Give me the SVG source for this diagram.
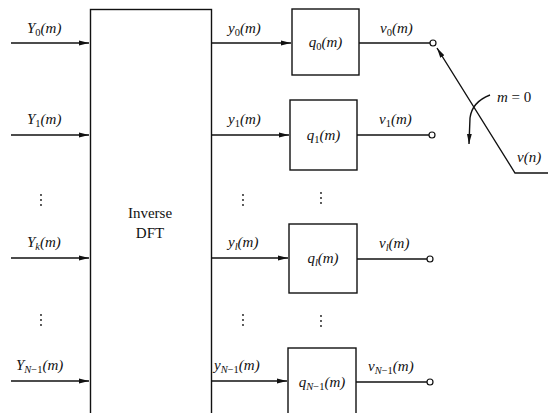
<svg xmlns="http://www.w3.org/2000/svg" width="548" height="413" viewBox="0 0 548 413">
<style>
.ln{stroke:#111;stroke-width:1.4;fill:none}
.bx{stroke:#111;stroke-width:1.4;fill:#fff}
.t{font-family:"Liberation Serif",serif;font-size:15px;fill:#111}
.i{font-style:italic}
.s{font-size:10.5px}
.c{fill:#fff;stroke:#111;stroke-width:1.2}
.d{fill:#111}
</style>
<defs>
<marker id="ah" viewBox="0 0 10 6" refX="10" refY="3" markerWidth="10" markerHeight="6" markerUnits="userSpaceOnUse" orient="auto">
<path d="M0,0.6 L10,3 L0,5.4 z" fill="#111"/>
</marker>
</defs>
<g id="idft">
<rect class="bx" x="90.5" y="9.5" width="121" height="420"/>
<text class="t" x="150" y="218" text-anchor="middle">Inverse</text>
<text class="t" x="150" y="238" text-anchor="middle">DFT</text>
</g>
<g id="q0"><rect class="bx" x="292" y="9" width="67" height="66"/>
<text class="t i" x="325.5" y="47" text-anchor="middle">q<tspan class="s" font-style="normal" dy="3">0</tspan><tspan dy="-3">(m)</tspan></text></g>
<g id="q1"><rect class="bx" x="290" y="100" width="67" height="70"/>
<text class="t i" x="323.5" y="140" text-anchor="middle">q<tspan class="s" font-style="normal" dy="3">1</tspan><tspan dy="-3">(m)</tspan></text></g>
<g id="ql"><rect class="bx" x="289" y="224" width="68" height="69"/>
<text class="t i" x="323" y="263" text-anchor="middle">q<tspan class="s" dy="3">l</tspan><tspan dy="-3">(m)</tspan></text></g>
<g id="qN1"><rect class="bx" x="288" y="348" width="68" height="80"/>
<text class="t i" x="322" y="387" text-anchor="middle">q<tspan class="s" dy="3">N</tspan><tspan class="s" font-style="normal">−1</tspan><tspan dy="-3">(m)</tspan></text></g>
<g id="connectors">
<line class="ln" x1="11" y1="43" x2="89" y2="43" marker-end="url(#ah)"/>
<line class="ln" x1="11" y1="135" x2="89" y2="135" marker-end="url(#ah)"/>
<line class="ln" x1="11" y1="258" x2="89" y2="258" marker-end="url(#ah)"/>
<line class="ln" x1="11" y1="381" x2="89" y2="381" marker-end="url(#ah)"/>
<line class="ln" x1="211" y1="43" x2="291" y2="43" marker-end="url(#ah)"/>
<line class="ln" x1="211" y1="135" x2="289" y2="135" marker-end="url(#ah)"/>
<line class="ln" x1="211" y1="258" x2="288" y2="258" marker-end="url(#ah)"/>
<line class="ln" x1="211" y1="381" x2="287" y2="381" marker-end="url(#ah)"/>
<line class="ln" x1="359" y1="43" x2="430" y2="43"/>
<line class="ln" x1="357" y1="135" x2="429" y2="135"/>
<line class="ln" x1="357" y1="259" x2="427" y2="259"/>
<line class="ln" x1="356" y1="382" x2="427" y2="382"/>
<circle class="c" cx="433" cy="43" r="3"/>
<circle class="c" cx="432" cy="135" r="3"/>
<circle class="c" cx="430" cy="259" r="3"/>
<circle class="c" cx="430" cy="382" r="3"/>
<polyline class="ln" points="548,173 515,173 437,48" marker-end="url(#ah)"/>
<path class="ln" d="M490,95 Q472,102 470,118 L469,144" marker-end="url(#ah)"/>
</g>
<g id="labels">
<text class="t i" x="27" y="33">Y<tspan class="s" font-style="normal" dy="3">0</tspan><tspan dy="-3">(m)</tspan></text>
<text class="t i" x="27" y="124">Y<tspan class="s" font-style="normal" dy="3">1</tspan><tspan dy="-3">(m)</tspan></text>
<text class="t i" x="27" y="247">Y<tspan class="s" dy="3">k</tspan><tspan dy="-3">(m)</tspan></text>
<text class="t i" x="16" y="370">Y<tspan class="s" dy="3">N</tspan><tspan class="s" font-style="normal">−1</tspan><tspan dy="-3">(m)</tspan></text>
<text class="t i" x="228" y="33">y<tspan class="s" font-style="normal" dy="3">0</tspan><tspan dy="-3">(m)</tspan></text>
<text class="t i" x="228" y="124">y<tspan class="s" font-style="normal" dy="3">1</tspan><tspan dy="-3">(m)</tspan></text>
<text class="t i" x="228" y="247">y<tspan class="s" dy="3">l</tspan><tspan dy="-3">(m)</tspan></text>
<text class="t i" x="214" y="370">y<tspan class="s" dy="3">N</tspan><tspan class="s" font-style="normal">−1</tspan><tspan dy="-3">(m)</tspan></text>
<text class="t i" x="380" y="33">v<tspan class="s" font-style="normal" dy="3">0</tspan><tspan dy="-3">(m)</tspan></text>
<text class="t i" x="379" y="124">v<tspan class="s" font-style="normal" dy="3">1</tspan><tspan dy="-3">(m)</tspan></text>
<text class="t i" x="379" y="248">v<tspan class="s" dy="3">l</tspan><tspan dy="-3">(m)</tspan></text>
<text class="t i" x="368" y="371">v<tspan class="s" dy="3">N</tspan><tspan class="s" font-style="normal">−1</tspan><tspan dy="-3">(m)</tspan></text>
<text class="t" x="497" y="102"><tspan class="i">m</tspan> = 0</text>
<text class="t i" x="517" y="162">v(n)</text>
</g>
<g id="dots">
<circle class="d" cx="41" cy="195" r="0.9"/><circle class="d" cx="41" cy="200" r="0.9"/><circle class="d" cx="41" cy="205" r="0.9"/>
<circle class="d" cx="41" cy="315" r="0.9"/><circle class="d" cx="41" cy="320" r="0.9"/><circle class="d" cx="41" cy="325" r="0.9"/>
<circle class="d" cx="243" cy="195" r="0.9"/><circle class="d" cx="243" cy="200" r="0.9"/><circle class="d" cx="243" cy="205" r="0.9"/>
<circle class="d" cx="243" cy="315" r="0.9"/><circle class="d" cx="243" cy="320" r="0.9"/><circle class="d" cx="243" cy="325" r="0.9"/>
<circle class="d" cx="321" cy="193" r="0.9"/><circle class="d" cx="321" cy="198" r="0.9"/><circle class="d" cx="321" cy="203" r="0.9"/>
<circle class="d" cx="321" cy="316" r="0.9"/><circle class="d" cx="321" cy="321" r="0.9"/><circle class="d" cx="321" cy="326" r="0.9"/>
</g>
</svg>
